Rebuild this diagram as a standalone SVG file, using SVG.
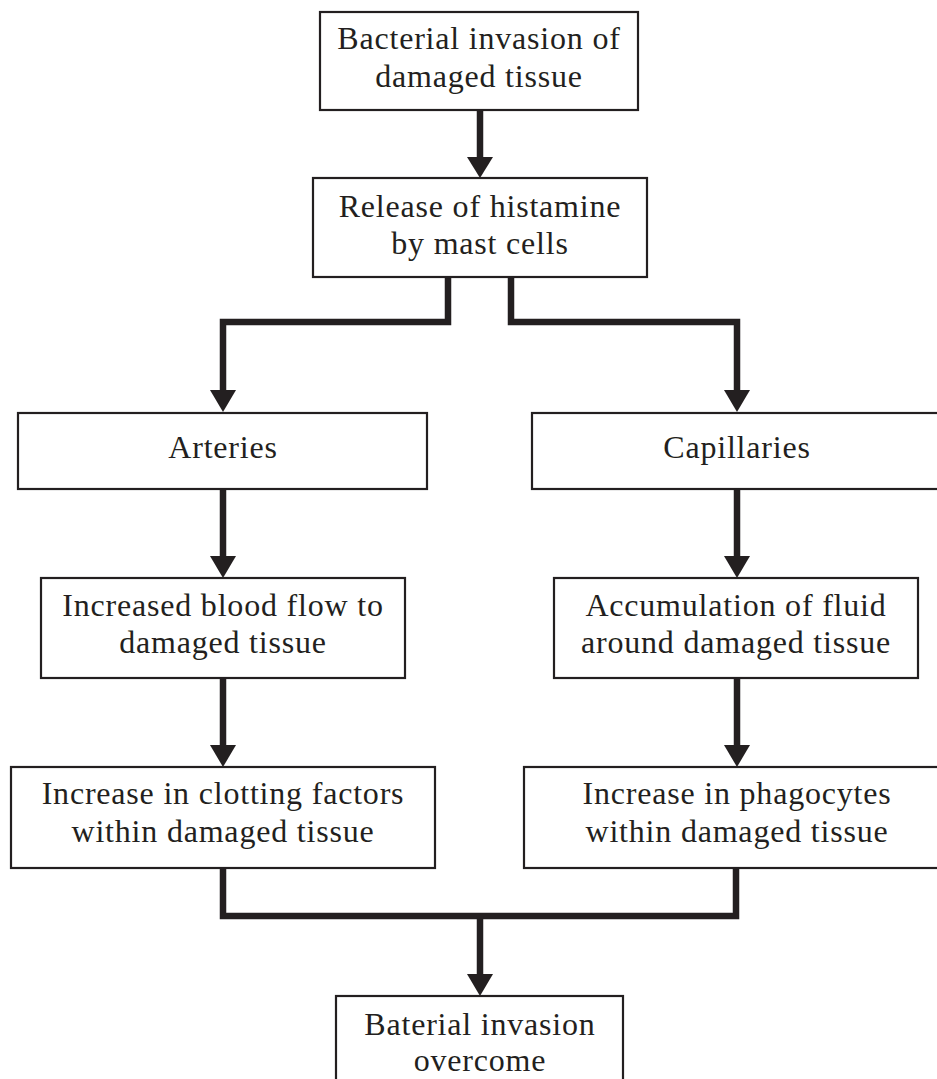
<svg xmlns="http://www.w3.org/2000/svg" width="937" height="1079" viewBox="0 0 937 1079">
<style>
.box{fill:#fff;stroke:#231f20;stroke-width:2.2}
.t{font-family:"Liberation Serif","Times New Roman",serif;font-size:32px;letter-spacing:0.8px;fill:#231f20;text-anchor:middle}
.c{fill:none;stroke:#231f20;stroke-width:6.5;stroke-linejoin:miter;stroke-linecap:butt}
.h{fill:#231f20}
</style>
<rect width="937" height="1079" fill="#fff"/>
<g id="connectors">
<path class="c" d="M480 110V159"/>
<polygon class="h" points="467,157 493,157 480,178"/>
<path class="c" d="M448 277V322H223V392"/>
<polygon class="h" points="210,390 236,390 223,412"/>
<path class="c" d="M511 277V322H737V392"/>
<polygon class="h" points="724,390 750,390 737,412"/>
<path class="c" d="M223 489V558"/>
<polygon class="h" points="210,556 236,556 223,578"/>
<path class="c" d="M737 489V558"/>
<polygon class="h" points="724,556 750,556 737,578"/>
<path class="c" d="M223 678V747"/>
<polygon class="h" points="210,745 236,745 223,767"/>
<path class="c" d="M737 678V747"/>
<polygon class="h" points="724,745 750,745 737,767"/>
<path class="c" d="M223 868V916H736V868"/>
<path class="c" d="M480 916V976"/>
<polygon class="h" points="467,974 493,974 480,996"/>
</g>
<g id="n1"><rect class="box" x="320" y="12" width="318" height="98"/>
<text class="t" x="479" y="49">Bacterial invasion of</text><text class="t" x="479" y="87">damaged tissue</text></g>
<g id="n2"><rect class="box" x="313" y="178" width="334" height="99"/>
<text class="t" x="480" y="217">Release of histamine</text><text class="t" x="480" y="254">by mast cells</text></g>
<g id="n3"><rect class="box" x="18" y="413" width="409" height="76"/>
<text class="t" x="223" y="458">Arteries</text></g>
<g id="n4"><rect class="box" x="532" y="413" width="420" height="76"/>
<text class="t" x="737" y="458">Capillaries</text></g>
<g id="n5"><rect class="box" x="41" y="578" width="364" height="100"/>
<text class="t" x="223" y="616">Increased blood flow to</text><text class="t" x="223" y="653">damaged tissue</text></g>
<g id="n6"><rect class="box" x="554" y="578" width="364" height="100"/>
<text class="t" x="736" y="616">Accumulation of fluid</text><text class="t" x="736" y="653">around damaged tissue</text></g>
<g id="n7"><rect class="box" x="11" y="767" width="424" height="101"/>
<text class="t" x="223" y="804">Increase in clotting factors</text><text class="t" x="223" y="842">within damaged tissue</text></g>
<g id="n8"><rect class="box" x="524" y="767" width="430" height="101"/>
<text class="t" x="737" y="804">Increase in phagocytes</text><text class="t" x="737" y="842">within damaged tissue</text></g>
<g id="n9"><rect class="box" x="336" y="996" width="287" height="100"/>
<text class="t" x="480" y="1035">Baterial invasion</text><text class="t" x="480" y="1071">overcome</text></g>
</svg>
